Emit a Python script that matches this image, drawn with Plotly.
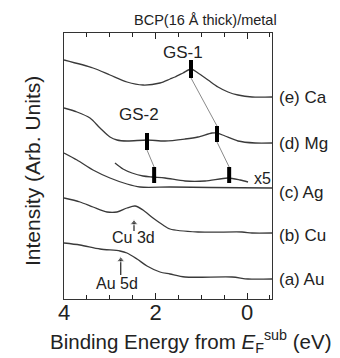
import plotly.graph_objects as go

# Binding energy (eV) and intensity (arb. units)
ca_x = [4.00, 3.366, 2.995, 2.623, 2.273, 1.902, 1.683, 1.574, 1.399, 1.224, 1.071, 0.852, 0.634, 0.415, 0.197, -0.109, -0.546]
ca_y = [23.9, 23.1, 22.4, 21.7, 21.4, 21.6, 22.0, 22.2, 22.6, 23.0, 22.6, 21.9, 21.2, 20.7, 20.4, 20.2, 20.2]

mg_x = [4.00, 3.716, 3.432, 3.213, 2.995, 2.842, 2.623, 2.186, 1.792, 1.355, 1.071, 0.765, 0.656, 0.481, 0.197, -0.175, -0.546]
mg_y = [19.1, 18.7, 18.1, 17.1, 16.2, 15.9, 15.8, 15.9, 15.8, 16.0, 16.2, 16.6, 16.6, 16.3, 15.8, 15.6, 15.6]

ag_x = [4.00, 3.716, 3.366, 2.995, 2.623, 2.339, 1.683, 0.8, -0.546]
ag_y = [14.6, 13.9, 12.9, 12.1, 11.5, 11.2, 11.2, 11.15, 11.1]

ag5_x = [2.886, 2.710, 2.514, 2.273, 2.055, 1.792, 1.355, 0.918, 0.415, 0.153, -0.022]
ag5_y = [13.6, 13.0, 12.6, 12.3, 12.2, 12.1, 11.8, 11.8, 12.1, 11.9, 11.7]

cu_x = [4.00, 3.650, 3.366, 3.060, 2.842, 2.623, 2.448, 2.273, 2.055, 1.836, 1.683, 1.071, 0.109, -0.109, -0.546]
cu_y = [10.1, 9.7, 9.2, 8.7, 8.7, 9.1, 9.3, 8.9, 8.1, 7.4, 7.0, 6.7, 6.7, 6.6, 6.6]

au_x = [4.00, 3.650, 3.213, 2.776, 2.623, 2.404, 2.186, 1.902, 1.683, 1.355, 0.328, -0.022, -0.546]
au_y = [5.6, 5.4, 5.0, 4.8, 4.6, 4.0, 3.3, 2.7, 2.5, 2.2, 2.2, 2.0, 2.0]

curve_labels = ["(e) Ca", "(d) Mg", "(c) Ag", "(b) Cu", "(a) Au"]
curve_label_y = [20.2, 15.6, 10.7, 6.4, 2.0]

# Gap-state markers: (energy, y_top, y_bottom)
gs_marks = [(1.224, 23.9, 22.1), (2.186, 16.6, 14.9), (0.656, 17.3, 15.7), (2.03, 13.2, 11.6), (0.39, 13.2, 11.6)]
# guide lines between markers
gs_links = [((1.224, 22.1), (0.656, 17.3)), ((0.656, 15.7), (0.39, 13.2)), ((2.186, 14.9), (2.03, 13.2))]

# Core-level arrows: (energy, y_tail, y_head)
core_arrows = [(2.47, 6.8, 7.6), (2.76, 2.4, 3.9)]

x_ticks = [0, 2, 4]

LINE = "#3a3a3a"
FONT = "Liberation Sans, Arial, sans-serif"

fig = go.Figure()
for xs, ys in [(ca_x, ca_y), (mg_x, mg_y), (ag_x, ag_y), (ag5_x, ag5_y), (cu_x, cu_y), (au_x, au_y)]:
    fig.add_trace(go.Scatter(x=xs, y=ys, mode="lines", line=dict(color=LINE, width=1.3, shape="spline", smoothing=0.8),
                             showlegend=False, hoverinfo="skip"))

for (a, b) in gs_links:
    fig.add_trace(go.Scatter(x=[a[0], b[0]], y=[a[1], b[1]], mode="lines", line=dict(color="#8a8a8a", width=1),
                             showlegend=False, hoverinfo="skip"))

for (e, y1, y2) in gs_marks:
    fig.add_trace(go.Scatter(x=[e, e], y=[y1, y2], mode="lines", line=dict(color="black", width=4),
                             showlegend=False, hoverinfo="skip"))

for (e, yt, yh) in core_arrows:
    fig.add_trace(go.Scatter(x=[e, e], y=[yt, yh], mode="lines+markers", line=dict(color="#222", width=1.2),
                             marker=dict(symbol=["circle", "triangle-up"], size=[0, 7], color="#222"),
                             showlegend=False, hoverinfo="skip"))

ann = []
for lab, y in zip(curve_labels, curve_label_y):
    ann.append(dict(text=lab, x=1.024, xref="paper", y=y, yref="y", xanchor="left", yanchor="middle",
                    showarrow=False, font=dict(size=17, color="#222")))
ann += [
    dict(text="GS-1", x=1.41, y=24.7, xref="x", yref="y", showarrow=False, font=dict(size=17, color="#222")),
    dict(text="GS-2", x=2.35, y=18.5, xref="x", yref="y", showarrow=False, font=dict(size=17, color="#222")),
    dict(text="x5", x=-0.34, y=12.1, xref="x", yref="y", showarrow=False, font=dict(size=16, color="#222")),
    dict(text="Cu 3d", x=2.49, y=6.2, xref="x", yref="y", showarrow=False, font=dict(size=16, color="#222")),
    dict(text="Au 5d", x=2.84, y=1.6, xref="x", yref="y", showarrow=False, font=dict(size=16, color="#222")),
    # title
    dict(text="BCP(16 Å thick)/metal", x=(205 - 64) / 208, y=(299 - 20) / 266, xref="paper", yref="paper",
         xanchor="center", yanchor="middle", showarrow=False, font=dict(size=14.5, color="#222")),
    # axis titles
    dict(text="Binding Energy from <i>E</i><sub>F</sub><sup>sub</sup> (eV)", x=(190 - 64) / 208,
         y=-(341 - 299) / 266, xref="paper", yref="paper", xanchor="center", yanchor="middle",
         showarrow=False, font=dict(size=20.5, color="#222")),
    dict(text="Intensity (Arb. Units)", x=-(64 - 32) / 208, y=(299 - 171) / 266, xref="paper", yref="paper",
         xanchor="center", yanchor="middle", textangle=-90, showarrow=False, font=dict(size=21, color="#222")),
]

fig.update_layout(
    width=340, height=358,
    margin=dict(l=64, r=68, t=33, b=59, autoexpand=False),
    paper_bgcolor="white", plot_bgcolor="white",
    font=dict(family=FONT, color="#222"),
    annotations=ann,
    xaxis=dict(range=[4, -0.546], tickvals=x_ticks, ticks="inside", ticklen=6, tickcolor="#222",
               showline=True, linecolor="#333", linewidth=1, mirror="ticks", showgrid=False, zeroline=False,
               automargin=False, tickfont=dict(size=22, color="#222"), ticklabelstandoff=-6,
               minor=dict(dtick=0.5, ticks="inside", ticklen=4, tickcolor="#222", showgrid=False)),
    yaxis=dict(range=[0, 26.6], showticklabels=False, ticks="", showline=True, linecolor="#333", linewidth=1,
               mirror=True, showgrid=False, zeroline=False, automargin=False),
)

fig.write_html("out.html", config={"displayModeBar": False},
               post_script="document.body.style.margin='0';")
